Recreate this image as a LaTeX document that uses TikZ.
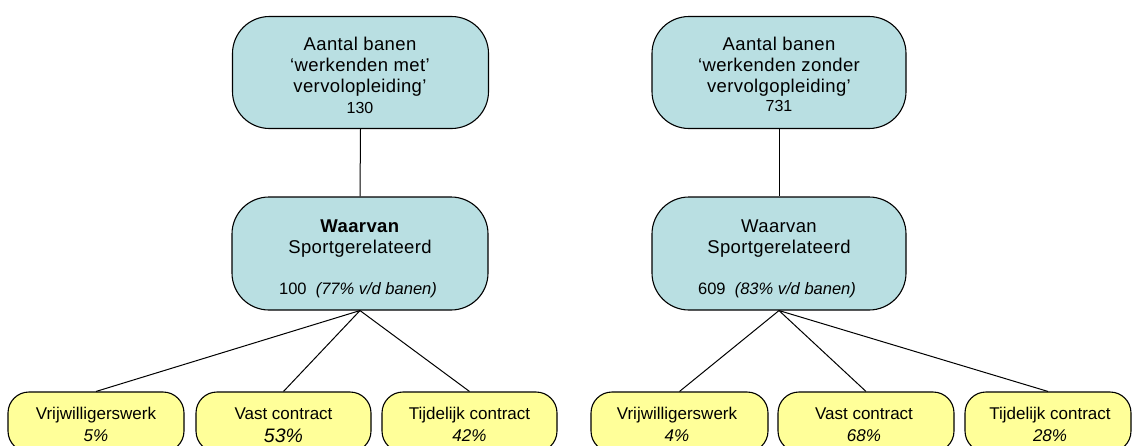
\documentclass[tikz,border=0pt]{standalone}
\usepackage{fontspec}
\setmainfont{Liberation Sans}
\definecolor{boxblue}{RGB}{185,223,226}
\definecolor{boxyellow}{RGB}{255,255,153}
\tikzset{
  bigbox/.style={draw=black, line width=1.1pt, fill=boxblue, rounded corners=37pt,
    minimum width=256pt, minimum height=112pt, inner sep=0pt},
  smallbox/.style={draw=black, line width=1.1pt, fill=boxyellow, rounded corners=21pt,
    minimum width=175pt, minimum height=60pt, inner sep=0pt},
  bigtxt/.style={anchor=base, inner sep=0pt, font=\fontsize{18.5}{21.5}\selectfont\addfontfeatures{LetterSpace=2}},
  numtxt/.style={anchor=base, inner sep=0pt, font=\fontsize{16}{18}\selectfont},
  midtxt/.style={anchor=base, inner sep=0pt, font=\fontsize{16.5}{18}\selectfont},
  smalltxt/.style={anchor=base, inner sep=0pt, font=\fontsize{17}{20}\selectfont},
  conn/.style={draw=black, line width=1pt}
}
\begin{document}
\begin{tikzpicture}[x=1pt,y=-1pt]
\useasboundingbox (0,0) rectangle (1132,445);
% boxes
\node[bigbox] (topL) at (360.5,72.5) {};
\node[bigbox, minimum height=113pt] (midL) at (360,253.5) {};
\node[bigbox, minimum width=254pt] (topR) at (779,72.5) {};
\node[bigbox, minimum width=254pt, minimum height=113pt] (midR) at (779,253.5) {};
\node[smallbox, minimum width=176pt] (b1) at (96,422) {};
\node[smallbox] (b2) at (283.5,422) {};
\node[smallbox] (b3) at (469.5,422) {};
\node[smallbox, minimum width=177pt] (r1) at (679.5,422) {};
\node[smallbox, minimum width=176pt] (r2) at (866,422) {};
\node[smallbox, minimum width=166pt] (r3) at (1048,422) {};
% texts top left
\node[bigtxt] (tl1) at (360,50) {Aantal banen};
\node[bigtxt] (tl2) at (360,71) {‘werkenden met’};
\node[bigtxt] (tl3) at (360,92) {vervolopleiding’};
\node[numtxt] (tl4) at (360,113) {130};
% texts top right
\node[bigtxt] (tr1) at (779,50) {Aantal banen};
\node[bigtxt] (tr2) at (779,71) {‘werkenden zonder};
\node[bigtxt] (tr3) at (779,92) {vervolgopleiding’};
\node[numtxt] (tr4) at (779,111) {731};
% texts middle
\node[bigtxt] (ml1) at (360,232) {\textbf{Waarvan}};
\node[bigtxt] (ml2) at (360,253) {Sportgerelateerd};
\node[midtxt] (ml3) at (358,294) {100\ \ \textit{(77\% v/d banen)}};
\node[bigtxt] (mr1) at (779,232) {Waarvan};
\node[bigtxt] (mr2) at (779,253) {Sportgerelateerd};
\node[midtxt] (mr3) at (777,294) {609\ \ \textit{(83\% v/d banen)}};
% texts bottom
\node[smalltxt] (b1a) at (96,419) {Vrijwilligerswerk};
\node[smalltxt] (b1b) at (96,441) {\textit{5\%}};
\node[smalltxt] (b2a) at (283.5,419) {Vast contract};
\node[smalltxt, font=\fontsize{19.5}{22}\selectfont] (b2b) at (283.5,442) {\textit{53\%}};
\node[smalltxt] (b3a) at (469.5,419) {Tijdelijk contract};
\node[smalltxt] (b3b) at (469.5,441) {\textit{42\%}};
\node[smalltxt] (r1a) at (677,419) {Vrijwilligerswerk};
\node[smalltxt] (r1b) at (677,441) {\textit{4\%}};
\node[smalltxt] (r2a) at (864,419) {Vast contract};
\node[smalltxt] (r2b) at (864,441) {\textit{68\%}};
\node[smalltxt] (r3a) at (1050,419) {Tijdelijk contract};
\node[smalltxt] (r3b) at (1050,441) {\textit{28\%}};
% connectors
\draw[conn] (topL.south) -- (midL.north);
\draw[conn] (topR.south) -- (midR.north);
\draw[conn] (midL.south) -- (b1.north);
\draw[conn] (midL.south) -- (b2.north);
\draw[conn] (midL.south) -- (b3.north);
\draw[conn] (midR.south) -- (r1.north);
\draw[conn] (midR.south) -- (r2.north);
\draw[conn] (midR.south) -- (r3.north);
\end{tikzpicture}
\end{document}
